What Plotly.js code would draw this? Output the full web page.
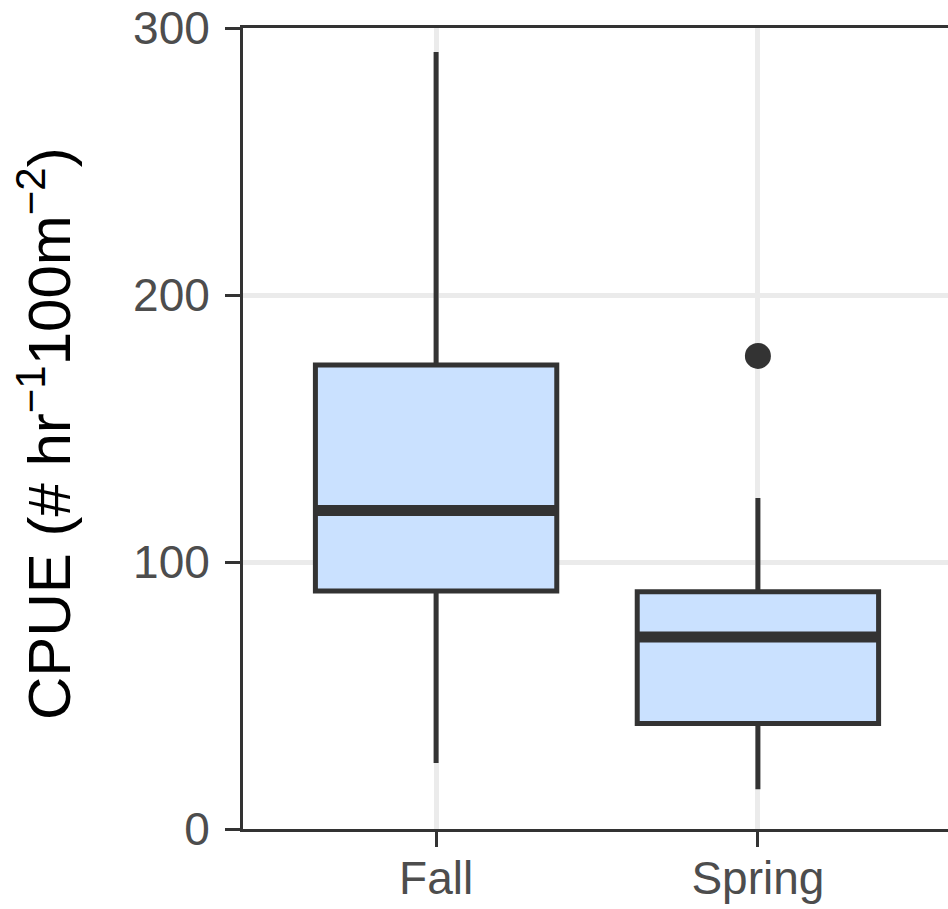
<!DOCTYPE html>
<html>
<head>
<meta charset="utf-8">
<script src="https://cdn.plot.ly/plotly-3.0.1.min.js"></script>
<style>
html, body { margin: 0; padding: 0; overflow: hidden; background: #ffffff; }
#chart { width: 960px; height: 909px; }
</style>
</head>
<body>
<div id="chart"></div>
<script>
// Data
const categories = ['Fall', 'Spring'];
const q1Values = [89.1, 39.5];
const medianValues = [119.3, 71.9];
const q3Values = [173.8, 88.9];
const lowerWhisker = [24.7, 14.9];
const upperWhisker = [291, 124];
const outlierCategories = ['Spring'];
const outlierValues = [177.2];
const yTickValues = [0, 100, 200, 300];
const yTickLabels = ['0', '100', '200', '300'];
const yTitle = 'CPUE (# hr<sup>\u22121</sup>100m<sup>\u22122</sup>)';

const boxWidth = 0.75;
const ink = '#333333';

const boxTrace = {
  type: 'box',
  x: categories,
  q1: q1Values,
  median: medianValues,
  q3: q3Values,
  lowerfence: lowerWhisker,
  upperfence: upperWhisker,
  width: boxWidth,
  whiskerwidth: 0,
  fillcolor: '#CAE1FF',
  line: { color: ink, width: 5 },
  boxpoints: false,
  hoverinfo: 'skip',
  showlegend: false
};

const outlierTrace = {
  type: 'scatter',
  mode: 'markers',
  x: outlierCategories,
  y: outlierValues,
  marker: { color: ink, size: 26, line: { width: 0 } },
  hoverinfo: 'skip',
  showlegend: false
};

// thick median bars (ggplot style), positioned from the data
const medianShapes = medianValues.map((m, i) => ({
  type: 'line',
  xref: 'x', yref: 'y',
  x0: i - boxWidth / 2, x1: i + boxWidth / 2,
  y0: m, y1: m,
  line: { color: ink, width: 11 },
  layer: 'above'
}));

const layout = {
  width: 960,
  height: 909,
  margin: { l: 243, r: 9, t: 28, b: 80 },
  paper_bgcolor: '#ffffff',
  plot_bgcolor: '#ffffff',
  font: { family: 'Liberation Sans, Arial, sans-serif', color: '#4d4d4d' },
  showlegend: false,
  xaxis: {
    type: 'category',
    range: [-0.6, 1.6],
    showgrid: true,
    gridcolor: '#ebebeb',
    gridwidth: 5,
    showline: true,
    linecolor: ink,
    linewidth: 3,
    mirror: true,
    ticks: 'outside',
    ticklen: 15,
    tickwidth: 3,
    tickcolor: ink,
    ticklabelstandoff: -8,
    tickfont: { size: 46, color: '#4d4d4d' },
    zeroline: false,
    fixedrange: true
  },
  yaxis: {
    range: [0, 300],
    tickvals: yTickValues,
    ticktext: yTickLabels,
    showgrid: true,
    gridcolor: '#ebebeb',
    gridwidth: 5,
    showline: true,
    linecolor: ink,
    linewidth: 3,
    mirror: true,
    ticks: 'outside',
    ticklen: 15,
    tickwidth: 3,
    tickcolor: ink,
    ticklabelstandoff: 6,
    tickfont: { size: 46, color: '#4d4d4d' },
    zeroline: false,
    fixedrange: true
  },
  annotations: [{
    text: yTitle,
    textangle: -90,
    xref: 'paper', yref: 'paper',
    x: -0.2797, y: 0.4944,
    xanchor: 'center', yanchor: 'middle',
    showarrow: false,
    font: { size: 60, color: '#000000', family: 'Liberation Sans, Arial, sans-serif' }
  }],
  shapes: medianShapes
};

Plotly.newPlot('chart', [boxTrace, outlierTrace], layout, { staticPlot: true, displayModeBar: false });
</script>
</body>
</html>
